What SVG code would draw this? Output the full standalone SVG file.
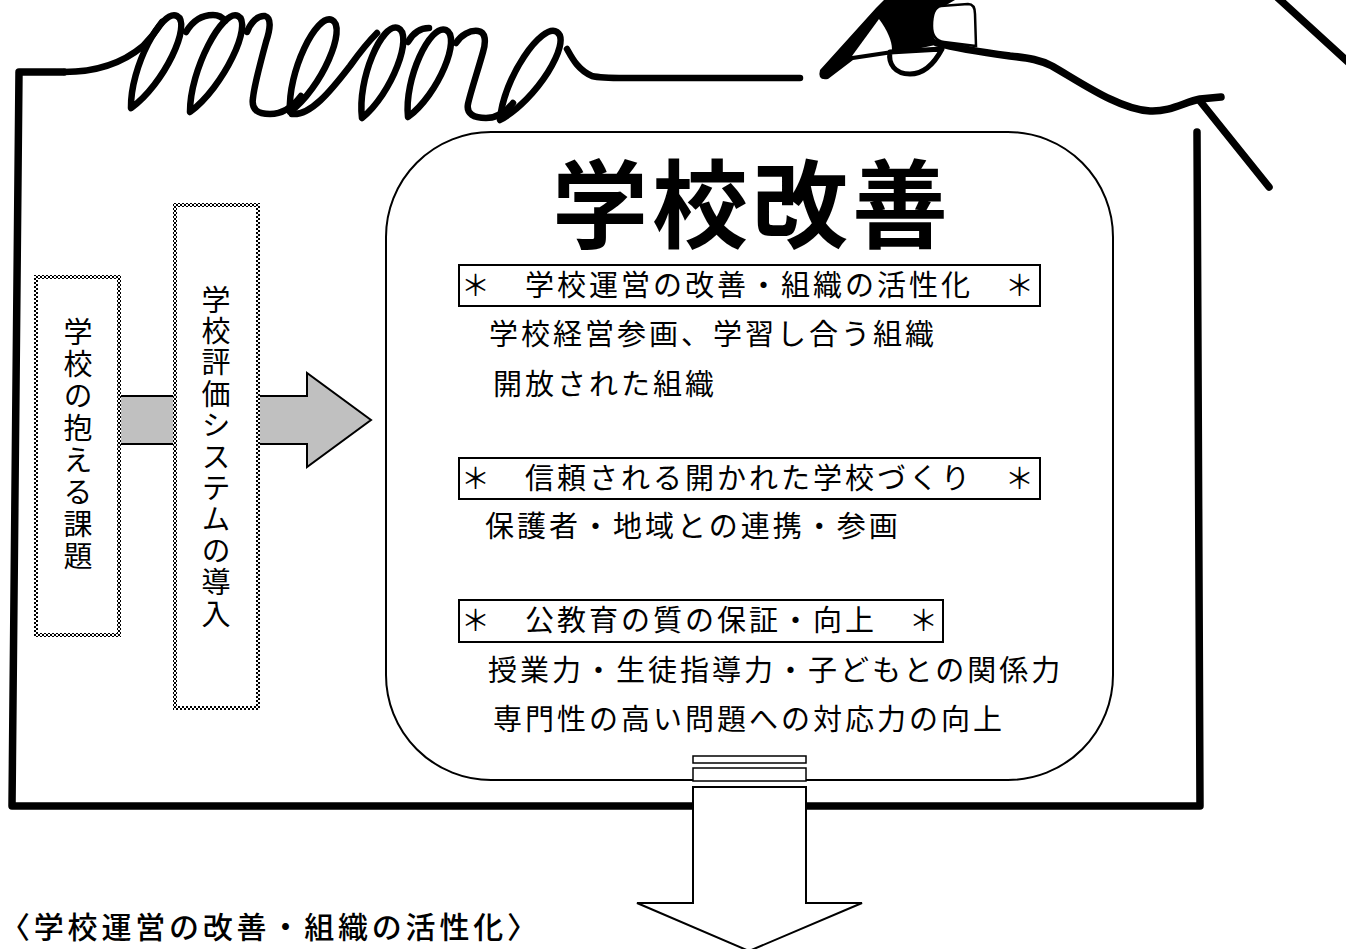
<svg xmlns="http://www.w3.org/2000/svg" width="1346" height="949" viewBox="0 0 1346 949">
  <defs>
    <pattern id="checker" width="4" height="4" patternUnits="userSpaceOnUse">
      <rect width="4" height="4" fill="#fff"/>
      <rect width="2" height="2" fill="#000"/>
      <rect x="2" y="2" width="2" height="2" fill="#000"/>
    </pattern>
    <style>
      .ink { fill: none; stroke: #000; stroke-linecap: round; stroke-linejoin: round; }
      .frame { stroke-width: 7.5; }
      .script { stroke-width: 6.5; }
      .txt { font-family: 'Noto Sans CJK JP', 'Noto Sans CJK SC', sans-serif; fill: #000; }
      .body { font-size: 29px; letter-spacing: 3px; }
      .vert { writing-mode: vertical-rl; font-size: 29px; }
      .tag { fill: #fff; stroke: #000; stroke-width: 2; }
      .dotbox { fill: #fff; stroke: url(#checker); stroke-width: 4; }
      .arrow { stroke: #000; stroke-width: 2; stroke-linejoin: miter; }
    </style>
  </defs>

  <rect width="1346" height="949" fill="#fff"/>

  <!-- hand-drawn memo frame with the looped "memo" script -->
  <g id="memo-frame">
    <path class="ink frame" d="M64,72 L19,72 L12,806 L1200,806 L1197,132"/>
    <g class="ink script">
      <!-- lead-in from the frame corner -->
      <path d="M64,72 C98,72 124,62 143,46 C151,38 157,30 162,22"/>
      <!-- first m -->
      <path d="M131,108 C130.1,67.3 161.7,8.4 177,16 C192.3,23.6 164.1,84.3 131,108 Z"/>
      <path d="M186,32 C192,22 201,15 213,15 C219,15 223,18 225,21"/>
      <path d="M190,112 C189.8,69.9 222.7,8.4 238,16 C253.3,23.6 223.8,86.9 190,112 Z"/>
      <path d="M247,32 C251,22 258,15 265,16 C272,18 270,30 266,42 C260,64 254,88 253,98 C251,110 258,114 270,114 C282,114 292,108 301,96"/>
      <!-- e -->
      <path d="M290,112 C287.4,72 316.5,12.9 332,20 C347.5,27.1 322,87.8 290,112 Z"/>
      <path d="M292,114 C310,116 330,92 350,66 C360,52 370,40 377,33"/>
      <!-- second m -->
      <path d="M362,118 C357,79.5 382.1,21.7 398,28 C413.9,34.3 392.2,93.5 362,118 Z"/>
      <path d="M408,42 C413,33 420,28 429,28"/>
      <path d="M408,117 C403.9,79 430.3,23.2 446,30 C461.7,36.8 438.7,94.2 408,117 Z"/>
      <path d="M456,43 C461,35 470,30 478,31 C486,32 486,42 483,52 C478,70 470,94 468,104 C466,114 474,118 486,118 C496,118 506,112 513,103"/>
      <!-- o and its long tail -->
      <path d="M500,120 C503.1,78.3 541.9,22.2 557,32 C572.1,41.8 536.7,100.1 500,120 Z"/>
      <path d="M567,49 C572,58 578,70 592,76 C600,78 610,78 625,78 L800,78"/>
    </g>
    <!-- string trailing from the pencil and the torn corner -->
    <path class="ink frame" d="M937,43 C955,48 980,52 1010,56 C1030,58 1040,60 1052,66 C1080,82 1120,110 1150,111 C1170,112 1185,102 1200,99 L1221,97"/>
    <path class="ink frame" d="M1200,101 L1269,187"/>
    <path class="ink frame" d="M1278,-2 L1348,62"/>
  </g>

  <!-- pencil -->
  <g id="pencil">
    <path d="M820,70 L876,8 L884,0 L955,0 L948,4 L936,12 L932,26 L934,38 L940,44 L893,54 L853,60 L828,79 Q817,81 820,70 Z" fill="#000"/>
    <path d="M852,56 L879,19 C887,30 892,40 892,50 Z" fill="#fff"/>
    <path d="M941,6 L968,4 C973,4 975,8 975,14 L976,46 L944,42 C936,41 932,35 932,26 C932,14 935,7 941,6 Z" fill="#fff" stroke="#000" stroke-width="2.5"/>
    <path d="M890,52 C888,64 895,74 910,74 C922,74 933,66 942,49 Z" fill="#fff" stroke="#000" stroke-width="5" stroke-linejoin="round"/>
  </g>

  <!-- connectors -->
  <g id="connectors">
    <path class="arrow" fill="#c0c0c0" d="M118,396 L307,396 L307,373 L371,420 L307,467 L307,444 L118,444 Z"/>
  </g>

  <!-- issue box -->
  <g id="issue-box">
    <rect class="dotbox" x="36" y="277" width="83" height="358"/>
    <text class="txt vert" x="78" y="317" letter-spacing="3">学校の抱える課題</text>
  </g>

  <!-- evaluation system box -->
  <g id="evaluation-box">
    <rect class="dotbox" x="175" y="205" width="83" height="503"/>
    <text class="txt vert" x="216" y="285" letter-spacing="2.4">学校評価システムの導入</text>
  </g>

  <!-- school improvement panel -->
  <g id="improvement">
    <rect x="386" y="132" width="727" height="648" rx="105" ry="105" fill="#fff" stroke="#000" stroke-width="2"/>
    <text class="txt" x="752" y="240" text-anchor="middle" font-size="96" font-weight="700" letter-spacing="4">学校改善</text>

    <rect class="tag" x="459" y="265" width="581" height="41"/>
    <text class="txt body" x="461" y="296">＊　学校運営の改善・組織の活性化　＊</text>
    <text class="txt body" x="489" y="345">学校経営参画、学習し合う組織</text>
    <text class="txt body" x="493" y="395">開放された組織</text>

    <rect class="tag" x="459" y="458" width="581" height="41"/>
    <text class="txt body" x="461" y="489">＊　信頼される開かれた学校づくり　＊</text>
    <text class="txt body" x="485" y="537">保護者・地域との連携・参画</text>

    <rect class="tag" x="459" y="600" width="484" height="42"/>
    <text class="txt body" x="461" y="631">＊　公教育の質の保証・向上　＊</text>
    <text class="txt body" x="488" y="681" letter-spacing="2">授業力・生徒指導力・子どもとの関係力</text>
    <text class="txt body" x="493" y="730">専門性の高い問題への対応力の向上</text>
  </g>

  <!-- outflow arrow below the panel -->
  <g id="outflow">
    <rect x="693" y="756" width="113" height="7" fill="#fff" stroke="#000" stroke-width="1.5"/>
    <rect x="693" y="768" width="113" height="13" fill="#fff" stroke="#000" stroke-width="1.5"/>
    <path class="arrow" fill="#fff" d="M693,787 L806,787 L806,903 L862,903 L749,951 L637,903 L693,903 Z"/>
  </g>

  <!-- section heading -->
  <g id="heading">
    <text class="txt" x="0" y="938" font-size="30" font-weight="500" letter-spacing="3.8">〈学校運営の改善・組織の活性化〉</text>
  </g>
</svg>
